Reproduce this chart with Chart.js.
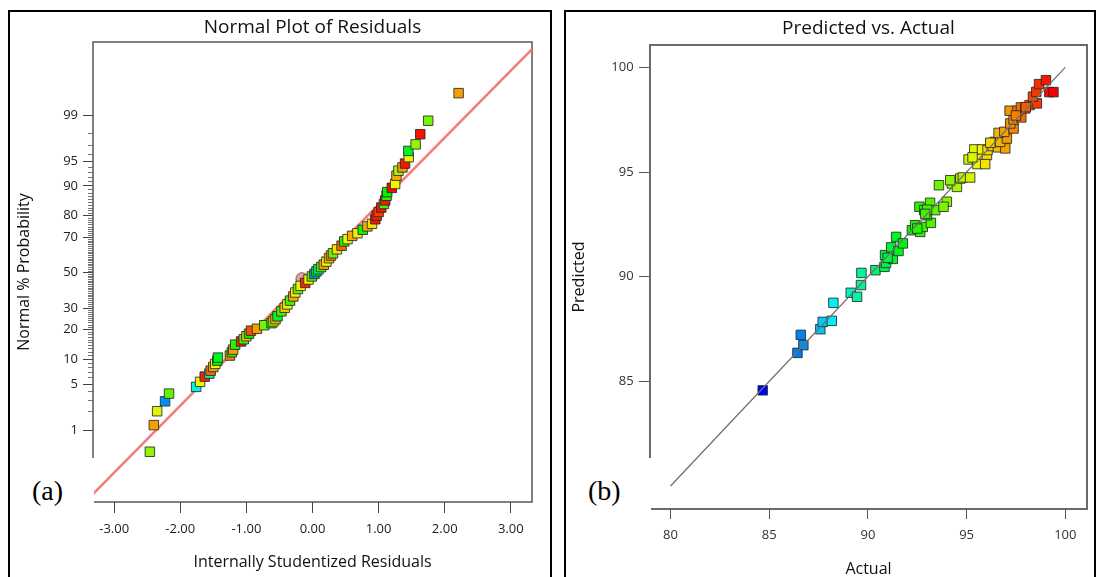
<!DOCTYPE html>
<html>
<head>
<meta charset="utf-8">
<script src="https://cdn.jsdelivr.net/npm/chart.js@4.4.1/dist/chart.umd.min.js"></script>
<style>
body { margin:0; background:#fff; width:1097px; height:577px; overflow:hidden; position:relative; }
.panel { position:absolute; border:2px solid #000; box-sizing:border-box; }
#panelA { left:8px; top:10px; width:544px; height:600px; }
#panelB { left:564px; top:10px; width:532px; height:600px; }
canvas { position:absolute; top:0; }
.tag { position:absolute; background:#fff; }
.tag span { position:absolute; font-family:"Liberation Serif", serif; font-size:28px; line-height:28px; color:#000; }
</style>
</head>
<body>
<div class="panel" id="panelA"></div>
<div class="panel" id="panelB"></div>
<canvas id="chartA" width="558" height="577" style="left:0;width:558px;height:577px"></canvas>
<canvas id="chartB" width="539" height="577" style="left:558px;width:539px;height:577px"></canvas>
<div class="tag" style="left:10px;top:458px;width:84px;height:72px"><span style="left:22px;top:19px">(a)</span></div>
<div class="tag" style="left:566px;top:458px;width:85px;height:72px"><span style="left:22px;top:19px">(b)</span></div>
<script>
// Normal plot of residuals: residual, normal % probability, response value (sets colour)
var residuals = [-2.46, -2.40, -2.35, -2.23, -2.17, -1.76, -1.70, -1.63, -1.56, -1.54,
  -1.50, -1.47, -1.44, -1.43, -1.25, -1.22, -1.20, -1.17, -1.08, -1.04,
  -1.00, -0.96, -0.93, -0.84, -0.73, -0.62, -0.59, -0.56, -0.53, -0.47,
  -0.42, -0.38, -0.34, -0.29, -0.26, -0.22, -0.18, -0.11, -0.06, -0.01,
  0.03, 0.06, 0.09, 0.13, 0.17, 0.21, 0.25, 0.28, 0.31, 0.37,
  0.44, 0.48, 0.53, 0.60, 0.68, 0.76, 0.83, 0.90, 0.95, 0.97,
  1.00, 1.04, 1.08, 1.10, 1.12, 1.13, 1.20, 1.25, 1.27, 1.30,
  1.36, 1.40, 1.455, 1.45, 1.56, 1.63, 1.75, 2.21];
var normalProb = [0.41, 1.22, 2.04, 2.88, 3.71, 4.59, 5.35, 6.25, 6.8, 7.4,
  8.2, 8.9, 9.7, 10.5, 11.05, 12.0, 12.8, 14.4, 15.5, 16.3,
  17.4, 18.4, 19.6, 20.4, 21.9, 22.8, 23.6, 24.6, 26.0, 28.4,
  30.2, 32.0, 34.0, 36.3, 38.5, 40.5, 42.3, 44.0, 46.0, 47.8,
  49.3, 50.8, 52.0, 53.3, 54.7, 56.5, 58.5, 60.0, 61.3, 63.5,
  65.5, 67.8, 69.0, 70.7, 72.0, 73.7, 75.3, 76.5, 78.5, 80.0,
  81.5, 83.2, 84.5, 85.7, 87.2, 88.3, 89.5, 90.5, 92.4, 93.4,
  94.0, 94.65, 95.6, 96.4, 97.1, 97.96, 98.76, 99.6];
var residColour = [94.2, 97.0, 95.4, 86.8, 93.5, 88.5, 95.5, 98.9, 89.5, 97.8,
  96.8, 95.7, 92.0, 91.5, 97.5, 92.5, 97.0, 92.6, 98.9, 93.0,
  96.5, 92.0, 98.2, 97.0, 93.8, 92.2, 95.3, 96.8, 91.5, 93.0,
  96.5, 95.6, 93.0, 96.8, 95.8, 93.5, 95.6, 98.8, 95.8, 93.2,
  86.8, 92.0, 90.3, 93.0, 97.0, 95.6, 96.5, 97.3, 93.5, 96.0,
  97.8, 92.5, 95.5, 96.8, 95.8, 92.2, 96.8, 96.0, 99.0, 98.9,
  98.5, 99.0, 93.0, 99.0, 92.5, 92.0, 99.2, 95.7, 96.8, 94.5,
  97.0, 99.0, 95.5, 91.5, 94.2, 99.1, 93.8, 97.0];
var markedResid = [-0.16];
var markedProb = [46.5];
var fitLineResid = [-3.32, 3.32];
var fitLineProb = [0.054, 99.952];
var probTicks = [1, 5, 10, 20, 30, 50, 70, 80, 90, 95, 99];
var residTicks = [-3, -2, -1, 0, 1, 2, 3];

// Predicted vs. actual
var actual = [84.67, 86.43, 86.60, 86.73, 87.59, 87.71, 88.17, 88.25, 89.13, 89.45,
  89.65, 89.67, 90.38, 90.84, 90.92, 90.87, 91.26, 91.18, 91.55, 91.43,
  91.77, 92.23, 92.39, 92.65, 92.78, 93.19, 92.61, 92.85, 93.15, 92.99,
  93.41, 93.60, 94.00, 93.83, 94.25, 94.51, 94.68, 94.17, 94.81, 95.18,
  95.10, 95.52, 95.86, 95.74, 96.03, 95.55, 95.94, 95.39, 95.78, 96.06,
  96.28, 96.59, 96.96, 96.42, 96.70, 97.04, 96.62, 96.91, 97.38, 97.21,
  97.38, 97.77, 97.18, 97.58, 97.75, 97.97, 98.19, 98.56, 98.36, 98.53,
  98.67, 99.02, 99.19, 99.40, 92.50, 93.00, 91.00, 92.90, 95.30, 96.20,
  97.50, 98.00];
var predicted = [84.57, 86.36, 87.22, 86.73, 87.49, 87.84, 87.89, 88.75, 89.23, 89.04,
  89.60, 90.18, 90.31, 90.47, 90.66, 91.03, 90.85, 91.40, 91.23, 91.90,
  91.59, 92.22, 92.46, 92.14, 92.38, 92.57, 93.34, 93.18, 93.53, 92.94,
  93.18, 94.37, 93.58, 93.34, 94.45, 94.29, 94.69, 94.61, 94.74, 94.74,
  95.60, 95.60, 95.60, 95.73, 95.81, 95.38, 95.38, 96.08, 96.08, 96.05,
  96.24, 96.18, 96.13, 96.44, 96.44, 96.60, 96.87, 96.92, 97.08, 97.32,
  97.51, 97.61, 97.93, 97.93, 98.09, 98.04, 98.20, 98.28, 98.60, 98.83,
  99.20, 99.39, 98.82, 98.82, 92.30, 93.20, 90.90, 93.00, 95.70, 96.40,
  97.70, 98.10];
var refLineActual = [80, 100];
var refLinePredicted = [80, 100];
var axisTicks = [80, 85, 90, 95, 100];

// inverse normal cdf (Acklam)
function probit(p) {
  var a = [-3.969683028665376e+01, 2.209460984245205e+02, -2.759285104469687e+02, 1.383577518672690e+02, -3.066479806614716e+01, 2.506628277459239e+00];
  var b = [-5.447609879822406e+01, 1.615858368580409e+02, -1.556989798598866e+02, 6.680131188771972e+01, -1.328068155288572e+01];
  var c = [-7.784894002430293e-03, -3.223964580411365e-01, -2.400758277161838e+00, -2.549732539343734e+00, 4.374664141464968e+00, 2.938163982698783e+00];
  var d = [7.784695709041462e-03, 3.224671290700398e-01, 2.445134137142996e+00, 3.754408661907416e+00];
  var pLow = 0.02425, q, r;
  if (p < pLow) {
    q = Math.sqrt(-2 * Math.log(p));
    return (((((c[0]*q+c[1])*q+c[2])*q+c[3])*q+c[4])*q+c[5]) / ((((d[0]*q+d[1])*q+d[2])*q+d[3])*q+1);
  }
  if (p <= 1 - pLow) {
    q = p - 0.5; r = q * q;
    return (((((a[0]*r+a[1])*r+a[2])*r+a[3])*r+a[4])*r+a[5])*q / (((((b[0]*r+b[1])*r+b[2])*r+b[3])*r+b[4])*r+1);
  }
  q = Math.sqrt(-2 * Math.log(1 - p));
  return -(((((c[0]*q+c[1])*q+c[2])*q+c[3])*q+c[4])*q+c[5]) / ((((d[0]*q+d[1])*q+d[2])*q+d[3])*q+1);
}

function runColour(v) {
  var t = (99.4 - v) / (99.4 - 84.6);
  t = Math.max(0, Math.min(1, t));
  return 'hsl(' + Math.round(240 * t) + ',100%,48%)';
}

function pairs(xs, ys, fy) {
  return xs.map(function(x, i) { return {x: x, y: fy ? fy(ys[i]) : ys[i]}; });
}
function pct(v) { return probit(v / 100); }

// small marks at each whole percent that has no label
var minorProb = [];
for (var p = 1; p <= 99; p++) {
  if (probTicks.indexOf(p) < 0) minorProb.push(p);
}

var fontName = '"Open Sans", "Noto Sans", sans-serif';
var tickFont = {family: fontName, size: 13};
var axisFont = {family: fontName, size: 16};
var headFont = {family: fontName, size: 19, weight: 'normal'};

var framePlugin = {
  id: 'frame',
  beforeDatasetsDraw: function(chart, args, opts) {
    var a = chart.chartArea, ctx = chart.ctx;
    ctx.save();
    ctx.strokeStyle = opts.color;
    ctx.lineWidth = opts.width;
    ctx.strokeRect(a.left, a.top, a.right - a.left, a.bottom - a.top);
    ctx.restore();
  }
};

new Chart(document.getElementById('chartA'), {
  type: 'scatter',
  data: {
    datasets: [{
      data: pairs(residuals, normalProb, pct),
      pointStyle: 'rect',
      pointRadius: 6.7,
      backgroundColor: residColour.map(runColour),
      borderColor: 'rgba(40,40,40,0.85)',
      borderWidth: 1,
      order: 0
    }, {
      data: pairs(markedResid, markedProb, pct),
      pointStyle: 'circle',
      pointRadius: 6,
      backgroundColor: 'rgba(190,90,90,0.55)',
      borderColor: 'rgba(120,60,60,0.8)',
      borderWidth: 1,
      order: 1
    }, {
      type: 'line',
      data: pairs(fitLineResid, fitLineProb, pct),
      borderColor: '#f47c7c',
      borderWidth: 2.5,
      pointRadius: 0,
      order: 2
    }]
  },
  options: {
    responsive: false,
    animation: false,
    layout: {padding: {left: 0, right: 26, top: 0, bottom: 0}},
    plugins: {
      legend: {display: false},
      tooltip: {enabled: false},
      title: {
        display: true, text: 'Normal Plot of Residuals', fullSize: false, color: '#111',
        font: headFont, padding: {top: 16.6, bottom: 2.6}
      },
      frame: {color: '#555', width: 1.5}
    },
    scales: {
      x: {
        type: 'linear', min: -3.32, max: 3.32,
        afterBuildTicks: function(s) { s.ticks = residTicks.map(function(v) { return {value: v}; }); },
        afterFit: function(s) { s.height = 75; },
        ticks: {callback: function(v) { return v.toFixed(2); }, font: tickFont, color: '#222', padding: 8.7, maxRotation: 0, autoSkip: false},
        grid: {drawOnChartArea: false, tickLength: 11, tickColor: '#444'},
        border: {display: false},
        title: {display: true, text: 'Internally Studentized Residuals', color: '#111', font: axisFont, padding: {top: 0, bottom: 4.9}}
      },
      y: {
        type: 'linear', position: 'left', weight: 0, min: -3.386, max: 3.407,
        afterBuildTicks: function(s) { s.ticks = probTicks.map(function(p) { return {value: pct(p)}; }); },
        afterFit: function(s) { s.width = 93; },
        ticks: {callback: function(v, i) { return String(probTicks[i]); }, font: tickFont, color: '#222', padding: 5, autoSkip: false},
        grid: {drawOnChartArea: false, tickLength: 10, tickColor: '#444'},
        border: {display: false},
        title: {display: true, text: 'Normal % Probability', color: '#111', font: axisFont, padding: {top: 14.4, bottom: 0}}
      },
      yMinor: {
        type: 'linear', position: 'left', weight: -1, min: -3.386, max: 3.407,
        afterBuildTicks: function(s) { s.ticks = minorProb.map(function(p) { return {value: pct(p)}; }); },
        afterFit: function(s) { s.width = 0; },
        ticks: {display: false},
        grid: {drawOnChartArea: false, tickLength: 5, tickColor: '#777', tickWidth: 1},
        border: {display: false}
      }
    }
  },
  plugins: [framePlugin]
});

new Chart(document.getElementById('chartB'), {
  type: 'scatter',
  data: {
    datasets: [{
      type: 'line',
      data: pairs(refLineActual, refLinePredicted),
      borderColor: '#707070',
      borderWidth: 1.3,
      pointRadius: 0,
      order: 0
    }, {
      data: pairs(actual, predicted),
      pointStyle: 'rect',
      pointRadius: 6.7,
      backgroundColor: actual.map(runColour),
      borderColor: 'rgba(40,40,40,0.85)',
      borderWidth: 1,
      order: 1
    }]
  },
  options: {
    responsive: false,
    animation: false,
    layout: {padding: {left: 0, right: 10, top: 0, bottom: 0}},
    plugins: {
      legend: {display: false},
      tooltip: {enabled: false},
      title: {
        display: true, text: 'Predicted vs. Actual', fullSize: false, color: '#111',
        font: headFont, padding: {top: 17.6, bottom: 4.6}
      },
      frame: {color: '#6a6a6a', width: 2}
    },
    scales: {
      x: {
        type: 'linear', min: 78.96, max: 101.1,
        afterBuildTicks: function(s) { s.ticks = axisTicks.map(function(v) { return {value: v}; }); },
        afterFit: function(s) { s.height = 68; },
        ticks: {font: tickFont, color: '#333', padding: 8.9, maxRotation: 0, autoSkip: false},
        grid: {drawOnChartArea: false, tickLength: 10, tickColor: '#555'},
        border: {display: false},
        title: {display: true, text: 'Actual', color: '#111', font: {family: fontName, size: 16, lineHeight: 1}, padding: {top: 0, bottom: 0}}
      },
      y: {
        type: 'linear', min: 78.9, max: 101.07,
        afterBuildTicks: function(s) { s.ticks = axisTicks.map(function(v) { return {value: v}; }); },
        afterFit: function(s) { s.width = 92; },
        ticks: {font: tickFont, color: '#333', padding: 5.4, autoSkip: false},
        grid: {drawOnChartArea: false, tickLength: 11, tickColor: '#555'},
        border: {display: false},
        title: {display: true, text: 'Predicted', color: '#111', font: axisFont, padding: {top: 12.1, bottom: 0}}
      }
    }
  },
  plugins: [framePlugin]
});
</script>
</body>
</html>
